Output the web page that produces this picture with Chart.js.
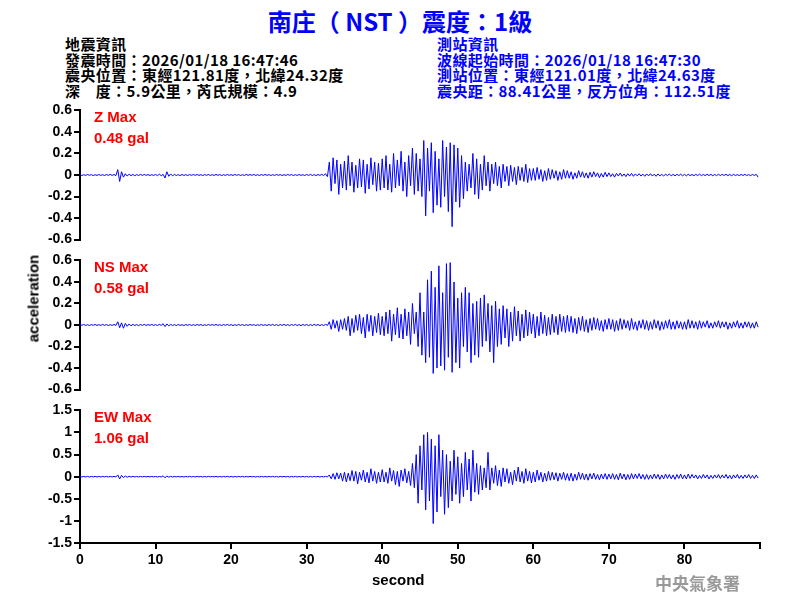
<!DOCTYPE html>
<html>
<head>
<meta charset="utf-8">
<script src="https://cdn.jsdelivr.net/npm/chart.js@4"></script>
<style>
  body { margin: 0; background: #fff; }
  #wrap { position: relative; width: 800px; height: 600px; overflow: hidden; font-family: "Liberation Sans", Arial, sans-serif; }
  canvas { position: absolute; left: 0; }
  .t { position: absolute; white-space: nowrap; }
  .hd { font-family: "Noto Sans CJK TC", "Liberation Sans", sans-serif; font-size: 15px; line-height: 15.7px; font-weight: bold; letter-spacing: 0.4px; }
  .mx { color: #ff0000; font-weight: bold; font-size: 15px; }
</style>
</head>
<body>
<div id="wrap">
  <div class="t" style="left:0;width:800px;top:3px;text-align:center;color:#0000ff;font-weight:bold;font-size:24px;font-family:'Noto Sans CJK TC','Liberation Sans',sans-serif;">南庄（ NST ）震度：1級</div>
  <div class="t hd" style="left:65px;top:36px;color:#000;">地震資訊<br>發震時間：2026/01/18 16:47:46<br>震央位置：東經121.81度，北緯24.32度<br>深　度：5.9公里，芮氏規模：4.9</div>
  <div class="t hd" style="left:437px;top:36px;color:#0000ff;">測站資訊<br>波線起始時間：2026/01/18 16:47:30<br>測站位置：東經121.01度，北緯24.63度<br>震央距：88.41公里，反方位角：112.51度</div>
  <canvas id="cz" width="800" height="150" style="top:100px"></canvas>
  <canvas id="cn" width="800" height="150" style="top:250px"></canvas>
  <canvas id="ce" width="800" height="200" style="top:400px"></canvas>
  <div class="t mx" style="left:94px;top:108px;">Z Max<br><span style="line-height:26px">0.48 gal</span></div>
  <div class="t mx" style="left:94px;top:258px;">NS Max<br><span style="line-height:26px">0.58 gal</span></div>
  <div class="t mx" style="left:94px;top:408px;">EW Max<br><span style="line-height:26px">1.06 gal</span></div>
  <div class="t" style="left:-22px;top:290px;width:110px;text-align:center;transform:rotate(-90deg);font-weight:bold;font-size:15px;">acceleration</div>
  <div class="t" style="left:372px;top:571px;font-weight:bold;font-size:15px;">second</div>
  <div class="t" style="left:655px;top:570px;color:#999;font-weight:bold;font-size:17px;font-family:'Noto Sans CJK TC',serif;">中央氣象署</div>
</div>
<script>
// sample step 0.25 s, 20 samples per row = 5 s
const dt = 0.25;

const zVals = [
  0.004,-0.005,0.003,-0.004,0.005,-0.003,0.004,-0.006,0.003,-0.004,0.005,-0.004,0.003,-0.005,0.004,-0.003,0.006,-0.004,0.005,-0.006,
  0.05,-0.06,0.03,-0.02,0.012,-0.01,0.008,-0.006,0.005,-0.007,0.004,-0.005,0.006,-0.004,0.005,-0.003,0.004,-0.005,0.003,-0.004,
  0.005,-0.006,0.008,-0.007,0.006,-0.028,0.03,-0.012,0.01,-0.008,0.006,-0.005,0.004,-0.006,0.005,-0.004,0.003,-0.005,0.004,-0.003,
  0.004,-0.003,0.005,-0.004,0.003,-0.005,0.004,-0.003,0.005,-0.004,0.003,-0.004,0.005,-0.003,0.004,-0.005,0.003,-0.004,0.005,-0.003,
  0.003,-0.004,0.005,-0.003,0.004,-0.005,0.003,-0.004,0.005,-0.003,0.004,-0.003,0.005,-0.004,0.003,-0.005,0.004,-0.003,0.005,-0.004,
  0.004,-0.005,0.003,-0.004,0.005,-0.003,0.004,-0.005,0.003,-0.004,0.005,-0.003,0.004,-0.005,0.003,-0.004,0.005,-0.004,0.003,-0.005,
  0.005,-0.004,0.006,-0.005,0.004,-0.006,0.005,-0.004,0.006,-0.005,0.012,-0.015,0.12,-0.15,0.16,-0.08,0.14,-0.18,0.10,-0.12,
  0.13,-0.14,0.18,-0.1,0.12,-0.16,0.09,-0.12,0.15,-0.11,0.14,-0.17,0.1,-0.13,0.16,-0.09,0.12,-0.15,0.11,-0.14,
  0.15,-0.12,0.18,-0.14,0.1,-0.16,0.2,-0.12,0.14,-0.1,0.22,-0.15,0.12,-0.2,0.18,-0.1,0.25,-0.18,0.2,-0.15,
  0.15,-0.2,0.32,-0.38,0.25,-0.15,0.3,-0.35,0.22,-0.28,0.15,-0.3,0.32,-0.2,0.26,-0.34,0.3,-0.48,0.28,-0.25,
  0.25,-0.3,0.18,-0.22,0.12,-0.15,0.1,-0.12,0.2,-0.18,0.15,-0.22,0.1,-0.14,0.18,-0.1,0.12,-0.15,0.1,-0.08,
  0.12,-0.1,0.08,-0.12,0.1,-0.06,0.08,-0.1,0.09,-0.06,0.07,-0.09,0.08,-0.05,0.07,-0.06,0.1,-0.07,0.06,-0.05,
  0.06,-0.05,0.07,-0.04,0.05,-0.06,0.04,-0.05,0.06,-0.04,0.05,-0.03,0.04,-0.05,0.03,-0.04,0.05,-0.03,0.04,-0.03,
  0.03,-0.04,0.02,-0.03,0.04,-0.02,0.03,-0.025,0.02,-0.03,0.025,-0.02,0.03,-0.015,0.02,-0.025,0.015,-0.02,0.025,-0.015,
  0.02,-0.015,0.012,-0.02,0.015,-0.01,0.018,-0.012,0.01,-0.015,0.012,-0.01,0.015,-0.012,0.01,-0.008,0.012,-0.01,0.008,-0.012,
  0.01,-0.008,0.012,-0.01,0.008,-0.012,0.01,-0.008,0.006,-0.01,0.008,-0.006,0.01,-0.008,0.006,-0.008,0.007,-0.006,0.008,-0.007,
  0.006,-0.008,0.007,-0.006,0.005,-0.007,0.006,-0.005,0.008,-0.006,0.005,-0.006,0.007,-0.005,0.006,-0.007,0.005,-0.006,0.007,-0.005,
  0.006,-0.005,0.007,-0.006,0.005,-0.007,0.006,-0.005,0.004,-0.006,0.005,-0.004,0.006,-0.005,0.004,-0.006,0.005,-0.004,0.006,-0.02
];

const nsVals = [
  0.004,-0.003,0.005,-0.004,0.003,-0.005,0.004,-0.003,0.005,-0.004,0.003,-0.004,0.005,-0.003,0.004,-0.005,0.003,-0.004,0.005,-0.004,
  0.03,-0.025,0.02,-0.03,0.015,-0.012,0.01,-0.008,0.006,-0.005,0.004,-0.006,0.005,-0.004,0.006,-0.005,0.004,-0.003,0.005,-0.004,
  0.004,-0.005,0.006,-0.004,0.012,-0.015,0.01,-0.008,0.006,-0.005,0.004,-0.006,0.005,-0.004,0.003,-0.005,0.004,-0.003,0.005,-0.004,
  0.003,-0.004,0.005,-0.003,0.004,-0.005,0.003,-0.004,0.005,-0.003,0.004,-0.003,0.005,-0.004,0.003,-0.005,0.004,-0.003,0.005,-0.004,
  0.004,-0.005,0.003,-0.004,0.005,-0.003,0.004,-0.005,0.003,-0.004,0.005,-0.003,0.004,-0.005,0.003,-0.004,0.005,-0.004,0.003,-0.005,
  0.005,-0.004,0.006,-0.005,0.004,-0.006,0.005,-0.004,0.006,-0.005,0.004,-0.006,0.005,-0.004,0.006,-0.005,0.004,-0.006,0.005,-0.004,
  0.005,-0.006,0.004,-0.005,0.006,-0.004,0.005,-0.006,0.004,-0.005,0.006,-0.004,0.03,-0.04,0.05,-0.03,0.04,-0.06,0.05,-0.04,
  0.06,-0.05,0.08,-0.1,0.06,-0.07,0.09,-0.05,0.1,-0.08,0.07,-0.12,0.1,-0.06,0.09,-0.1,0.08,-0.07,0.11,-0.09,
  0.08,-0.1,0.12,-0.08,0.14,-0.15,0.1,-0.09,0.16,-0.12,0.1,-0.13,0.15,-0.1,0.12,-0.18,0.2,-0.08,0.12,-0.2,
  0.3,-0.28,0.12,-0.35,0.42,-0.3,0.5,-0.45,0.35,-0.4,0.55,-0.38,0.3,-0.42,0.57,-0.3,0.58,-0.44,0.4,-0.35,
  0.25,-0.4,0.3,-0.2,0.35,-0.25,0.3,-0.35,0.2,-0.28,0.22,-0.3,0.25,-0.2,0.28,-0.15,0.2,-0.25,0.18,-0.35,
  0.22,-0.2,0.15,-0.18,0.18,-0.12,0.15,-0.2,0.12,-0.15,0.17,-0.1,0.13,-0.15,0.1,-0.12,0.14,-0.1,0.12,-0.08,
  0.1,-0.12,0.08,-0.1,0.12,-0.08,0.09,-0.1,0.07,-0.09,0.1,-0.07,0.08,-0.09,0.1,-0.06,0.08,-0.07,0.09,-0.06,
  0.08,-0.07,0.06,-0.08,0.07,-0.05,0.08,-0.06,0.05,-0.07,0.06,-0.05,0.07,-0.04,0.06,-0.05,0.04,-0.06,0.05,-0.04,
  0.06,-0.04,0.05,-0.06,0.04,-0.05,0.06,-0.04,0.05,-0.03,0.04,-0.05,0.06,-0.04,0.03,-0.05,0.04,-0.03,0.05,-0.04,
  0.04,-0.05,0.03,-0.04,0.05,-0.03,0.04,-0.05,0.03,-0.04,0.04,-0.03,0.05,-0.04,0.03,-0.04,0.04,-0.03,0.03,-0.04,
  0.03,-0.04,0.05,-0.03,0.04,-0.03,0.03,-0.04,0.04,-0.03,0.03,-0.02,0.04,-0.03,0.02,-0.03,0.03,-0.02,0.04,-0.03,
  0.03,-0.02,0.03,-0.04,0.02,-0.03,0.03,-0.02,0.04,-0.03,0.02,-0.03,0.03,-0.02,0.03,-0.03,0.02,-0.03,0.03,-0.02
];

const ewVals = [
  0.006,-0.005,0.007,-0.006,0.005,-0.007,0.006,-0.005,0.007,-0.006,0.005,-0.006,0.007,-0.005,0.006,-0.007,0.005,-0.006,0.007,-0.006,
  0.04,-0.05,0.03,-0.02,0.015,-0.012,0.01,-0.008,0.007,-0.006,0.005,-0.007,0.006,-0.005,0.007,-0.006,0.005,-0.004,0.006,-0.005,
  0.006,-0.007,0.005,-0.006,0.02,-0.025,0.015,-0.01,0.008,-0.007,0.006,-0.005,0.007,-0.006,0.005,-0.007,0.006,-0.005,0.007,-0.006,
  0.005,-0.006,0.007,-0.005,0.006,-0.007,0.005,-0.006,0.007,-0.005,0.006,-0.005,0.007,-0.006,0.005,-0.007,0.006,-0.005,0.007,-0.006,
  0.006,-0.007,0.005,-0.006,0.007,-0.005,0.006,-0.007,0.005,-0.006,0.007,-0.005,0.006,-0.007,0.005,-0.006,0.007,-0.006,0.005,-0.007,
  0.007,-0.006,0.008,-0.007,0.006,-0.008,0.007,-0.006,0.008,-0.007,0.006,-0.008,0.007,-0.006,0.008,-0.007,0.006,-0.008,0.007,-0.006,
  0.007,-0.008,0.006,-0.007,0.008,-0.006,0.007,-0.008,0.006,-0.007,0.008,-0.006,0.04,-0.05,0.07,-0.06,0.09,-0.05,0.08,-0.1,
  0.1,-0.12,0.08,-0.09,0.14,-0.1,0.12,-0.16,0.1,-0.08,0.15,-0.12,0.1,-0.14,0.18,-0.1,0.12,-0.15,0.1,-0.12,
  0.16,-0.12,0.1,-0.15,0.2,-0.1,0.14,-0.18,0.12,-0.22,0.15,-0.1,0.18,-0.14,0.12,-0.2,0.3,-0.25,0.5,-0.6,
  0.7,-0.3,0.95,-0.75,1.0,-0.55,0.85,-1.06,0.7,-0.8,0.95,-0.45,0.6,-0.85,0.5,-0.7,0.35,-0.55,0.6,-0.4,
  0.45,-0.6,0.3,-0.45,0.55,-0.3,0.4,-0.55,0.6,-0.35,0.3,-0.4,0.25,-0.3,0.2,-0.25,0.55,-0.3,0.2,-0.15,
  0.25,-0.2,0.15,-0.22,0.2,-0.12,0.18,-0.15,0.1,-0.18,0.15,-0.1,0.22,-0.12,0.12,-0.15,0.18,-0.1,0.12,-0.14,
  0.1,-0.12,0.15,-0.08,0.1,-0.12,0.08,-0.1,0.12,-0.08,0.1,-0.07,0.09,-0.1,0.08,-0.06,0.1,-0.08,0.07,-0.09,
  0.08,-0.1,0.06,-0.08,0.1,-0.06,0.08,-0.07,0.06,-0.08,0.07,-0.05,0.08,-0.06,0.05,-0.07,0.06,-0.05,0.07,-0.06,
  0.06,-0.05,0.07,-0.06,0.05,-0.07,0.08,-0.05,0.06,-0.07,0.05,-0.06,0.07,-0.05,0.06,-0.04,0.07,-0.05,0.05,-0.06,
  0.05,-0.06,0.04,-0.05,0.06,-0.04,0.05,-0.06,0.04,-0.05,0.06,-0.04,0.05,-0.05,0.04,-0.06,0.05,-0.04,0.06,-0.05,
  0.04,-0.05,0.06,-0.04,0.05,-0.03,0.04,-0.05,0.03,-0.04,0.05,-0.03,0.04,-0.05,0.03,-0.04,0.04,-0.03,0.05,-0.04,
  0.04,-0.03,0.05,-0.04,0.03,-0.05,0.04,-0.03,0.05,-0.04,0.03,-0.04,0.04,-0.03,0.05,-0.04,0.03,-0.04,0.04,-0.03
];

const xTicks = [0, 10, 20, 30, 40, 50, 60, 70, 80];

const tickFont = { family: "Liberation Sans, Arial", size: 14, weight: "bold" };

function toPoints(vals) {
  return vals.map((v, i) => ({ x: i * dt, y: v }));
}

function makeChart(id, vals, yMax, yStep, showX) {
  const ctx = document.getElementById(id).getContext("2d");
  return new Chart(ctx, {
    type: "line",
    data: {
      datasets: [{
        data: toPoints(vals),
        borderColor: "#0000ff",
        borderWidth: 1,
        pointRadius: 0,
        tension: 0,
      }],
    },
    options: {
      responsive: false,
      animation: false,
      layout: { padding: { top: 8, bottom: showX ? 0 : 7, right: 40, left: 0 } },
      plugins: { legend: { display: false }, tooltip: { enabled: false } },
      scales: {
        x: {
          type: "linear",
          min: 0,
          max: 90,
          display: showX,
          afterFit: (s) => { if (showX) s.height = 57; },
          border: { display: true, color: "#000", width: 2 },
          grid: { drawOnChartArea: false, color: "#000", tickLength: 6, lineWidth: 2 },
          ticks: {
            stepSize: 10,
            color: "#000",
            font: tickFont,
            maxRotation: 0,
            autoSkip: false,
            callback: (v) => (xTicks.includes(v) ? String(v) : ""),
          },
        },
        y: {
          min: -yMax,
          max: yMax,
          afterFit: (s) => { s.width = 80; },
          border: { display: true, color: "#000", width: 2 },
          grid: { drawOnChartArea: false, color: "#000", tickLength: 6, lineWidth: 2 },
          ticks: {
            stepSize: yStep,
            autoSkip: false,
            color: "#000",
            font: tickFont,
            padding: 2,
            callback: (v) => String(Math.round(v * 10) / 10),
          },
        },
      },
    },
  });
}

makeChart("cz", zVals, 0.6, 0.2, false);
makeChart("cn", nsVals, 0.6, 0.2, false);
makeChart("ce", ewVals, 1.5, 0.5, true);
</script>
</body>
</html>
